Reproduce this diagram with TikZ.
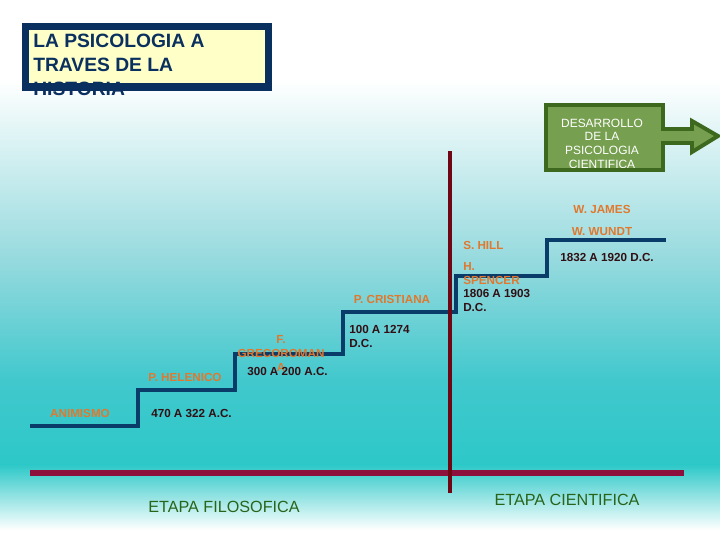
\documentclass[tikz,border=0pt]{standalone}
\usepackage{fontspec}
\setmainfont{Liberation Sans}
\usetikzlibrary{positioning}

\definecolor{stairblue}{RGB}{10,60,105}
\definecolor{cutred}{RGB}{112,5,20}
\definecolor{axisred}{RGB}{140,15,60}
\definecolor{labelorange}{RGB}{225,120,45}
\definecolor{datedark}{RGB}{50,15,20}
\definecolor{etapagreen}{RGB}{40,100,25}
\definecolor{titlenavy}{RGB}{10,48,95}
\definecolor{titlefill}{RGB}{255,255,200}
\definecolor{arrowfill}{RGB}{118,160,80}
\definecolor{arrowedge}{RGB}{60,105,30}
\definecolor{tealtop}{RGB}{150,218,222}
\definecolor{tealmid}{RGB}{65,200,205}
\definecolor{tealbot}{RGB}{45,200,200}

\begin{document}
\begin{tikzpicture}[x=0.025cm,y=-0.025cm,
    every node/.style={inner sep=0pt},
    period/.style={text=labelorange,font=\bfseries\fontsize{8.3}{9.9}\selectfont},
    dates/.style={text=datedark,font=\bfseries\fontsize{8.3}{10.6}\selectfont,align=left},
    etapa/.style={text=etapagreen,font=\fontsize{11.5}{14}\selectfont},
    stair/.style={stairblue,line width=2.8pt},
    arrowshape/.style={line width=2.8pt,line join=miter}]
        \useasboundingbox (0,0) rectangle (720,540);
        % fondo
        \fill[white] (0,0) rectangle (720,540);
        \shade[top color=white,bottom color=tealtop] (0,80) rectangle (720,260);
        \shade[top color=tealtop,bottom color=tealmid] (0,259.5) rectangle (720,380);
        \shade[top color=tealmid,bottom color=tealbot] (0,379.5) rectangle (720,465);
        \shade[top color=tealbot,bottom color=white] (0,464.5) rectangle (720,530);

        % titulo
        \fill[titlefill] (25.5,26.5) rectangle (268.5,87);
        \node[anchor=north west,align=left,text=titlenavy,font=\bfseries\fontsize{13.7}{17}\selectfont] (titulo) at (33,34.2) {LA PSICOLOGIA A\\TRAVES DE LA\\HISTORIA};
        \draw[titlenavy,line width=5pt] (25.5,26.5) rectangle (268.5,87);

        % flecha
        \fill[arrowfill] (546,105) -- (663,105) -- (663,129) -- (692,129) -- (692,121) -- (718,136) -- (692,152) -- (692,143) -- (663,143) -- (663,170) -- (546,170) -- cycle;
        \node[anchor=north,align=center,text=white,font=\fontsize{8.5}{9.9}\selectfont] (desarrollo) at (602,118.4) {DESARROLLO\\DE LA\\PSICOLOGIA\\CIENTIFICA};
        \draw[arrowedge,arrowshape] (546,105) -- (663,105) -- (663,129) -- (692,129) -- (692,121) -- (718,136) -- (692,152) -- (692,143) -- (663,143) -- (663,170) -- (546,170) -- cycle;

        % escalera
        \foreach \n/\x/\y in {0/30/426,1/138/426,2/138/390,3/235/390,4/235/354,5/343/354,
                              6/343/312,7/456/312,8/456/276,9/547/276,10/547/240,11/666/240}
            {\coordinate (st\n) at (\x,\y);}
        \draw[stair] (st0) -- (st1) -- (st2) -- (st3) -- (st4) -- (st5) -- (st6)
            -- (st7) -- (st8) -- (st9) -- (st10) -- (st11);

        % lineas de etapas
        \coordinate (ax1) at (30,473);
        \coordinate (ax2) at (684,473);
        \coordinate (cut1) at (450,151);
        \coordinate (cut2) at (450,493);
        \draw[axisred,line width=3.9pt] (ax1) -- (ax2);
        \draw[cutred,line width=3.5pt] (cut1) -- (cut2);

        % periodos
        \node[period,anchor=base] (animismo) at (80,417) {ANIMISMO};
        \node[period,anchor=base] (helenico) at (185,381) {P. HELENICO};
        \node[period,anchor=north,align=center] (greco) at (281,335.6) {F.\\GRECOROMAN\\A};
        \node[period,anchor=base] (cristiana) at (392,303) {P. CRISTIANA};
        \node[period,anchor=base west] (hill) at (463,249) {S. HILL};
        \node[period,anchor=north west,align=left] (spencer) at (463,262.6) {H.\\SPENCER};
        \node[period,anchor=base] (james) at (602,213) {W. JAMES};
        \node[period,anchor=base] (wundt) at (602,235) {W. WUNDT};

        % fechas
        \node[dates,anchor=base west] (f1) at (151,417) {470 A 322 A.C.};
        \node[dates,anchor=base west] (f2) at (247,375) {300 A 200 A.C.};
        \node[dates,anchor=north west] (f3) at (349,324.6) {100 A 1274\\D.C.};
        \node[dates,anchor=north west] (f4) at (463,288.6) {1806 A 1903\\D.C.};
        \node[dates,anchor=base west] (f5) at (560,261) {1832 A 1920 D.C.};

        \node[etapa,anchor=base] (filosofica) at (224,512) {ETAPA FILOSOFICA};
        \node[etapa,anchor=base] (cientifica) at (567,505) {ETAPA CIENTIFICA};
\end{tikzpicture}
\end{document}
